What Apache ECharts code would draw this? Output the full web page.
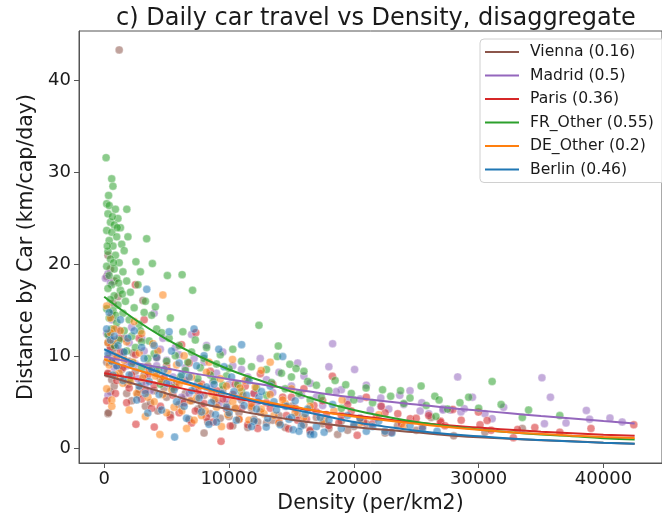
<!DOCTYPE html>
<html>
<head>
<meta charset="utf-8">
<script src="https://cdn.jsdelivr.net/npm/echarts@6/dist/echarts.min.js"></script>
<style>
  html, body { margin: 0; padding: 0; background: #fff; }
  #chart { width: 662px; height: 520px; }
</style>
</head>
<body>
<div id="chart"></div>
<script>
// City order as listed in the legend
const cities = ['Vienna', 'Madrid', 'Paris', 'FR_Other', 'DE_Other', 'Berlin'];
const fitScores = ['0.16', '0.5', '0.36', '0.55', '0.2', '0.46'];
const cityColors = ['#8c564b', '#9467bd', '#d62728', '#2ca02c', '#ff7f0e', '#1f77b4'];

const xTicks = [0, 10000, 20000, 30000, 40000];
const yTicks = [0, 10, 20, 30, 40];

// Observations: [density per km2, km per capita per day]
const vienna = [[1200,43.3],[300,21.0],[500,19.5],[200,18.7],[800,18.2],[3100,16.1],[600,14.6],[1000,13.0],[300,11.5],[500,10.8],
  [700,10.3],[1500,10.0],[200,9.4],[1000,9.0],[2000,9.5],[300,8.1],[600,7.5],[1300,7.8],[2500,8.4],[3000,7.2],
  [3500,9.0],[4000,6.3],[800,6.8],[4500,7.6],[5000,5.6],[1800,6.0],[5500,6.8],[6000,4.8],[6500,6.0],[2200,5.2],
  [7000,5.2],[7500,4.3],[8000,5.8],[8500,3.8],[9000,4.9],[9500,6.4],[10000,3.5],[10500,4.4],[11000,5.3],[12000,3.2],
  [12500,4.0],[13000,2.8],[14000,3.6],[15000,4.6],[16000,2.6],[17000,3.4],[18000,2.2],[18700,1.55],[19000,3.0],[20000,2.4],
  [23500,2.5],[26200,3.4],[33500,2.2],[3300,4.6],[300,3.8],[340,3.9],[500,6.2],[2700,5.9],[8000,1.7],[4200,8.2],[1600,12.0],
  [400,12.2],[900,11.0],[1400,8.6],[1900,7.0],[2300,10.4],[2800,6.4],[3200,8.0],[3700,5.0],[4300,4.1],[4800,6.6],
  [5300,3.7],[5800,7.3],[6300,5.4],[6800,3.2],[7300,6.6],[7800,4.7],[8300,2.9],[8800,5.3],[9300,3.3],[9800,4.8],
  [10300,2.5],[10800,3.9],[11500,2.3],[11800,4.4],[12300,2.9],[13500,3.1],[14500,2.3],[15500,3.7],[16500,1.9],[17500,2.7],
  [19500,2.0],[21000,2.7],[22500,1.7],[25000,2.0],[28000,1.4],[30500,1.8],[1100,16.5],[700,15.8]];

const madrid = [[300,19.0],[100,18.5],[500,18.0],[200,12.5],[700,11.8],[400,10.2],[1000,9.8],[300,5.8],[800,8.8],[1500,10.5],
  [2000,11.5],[2500,9.2],[3000,12.0],[3500,8.4],[4000,14.7],[4500,10.8],[5000,9.6],[5500,7.8],[6000,10.2],[6500,8.8],
  [7000,12.4],[7500,7.2],[8000,9.4],[8500,6.5],[9000,8.2],[9500,10.5],[10000,7.0],[11000,8.6],[12000,6.0],[12500,9.8],
  [13000,7.5],[14000,8.3],[15000,6.8],[15500,9.3],[16000,7.9],[17000,5.6],[18000,8.9],[18300,11.4],[19000,6.4],[20060,8.6],
  [20500,5.4],[21320,4.2],[22160,5.5],[22160,4.6],[23680,5.8],[24000,4.8],[25440,5.0],[25310,4.1],[27140,4.35],[27140,4.2],
  [27720,4.2],[28320,7.8],[28580,4.0],[28850,4.35],[31080,3.26],[35070,7.7],[35750,5.6],[35270,2.72],[38630,4.16],[38890,3.2],
  [40520,3.33],[6800,6.0],[3300,7.0],[9800,5.4],
  [600,14.0],[1200,12.8],[1800,9.0],[2200,13.2],[2700,7.6],[3200,10.6],[3700,6.3],[4200,9.0],[4700,12.0],[5200,7.0],
  [5700,11.0],[6200,5.6],[7200,9.8],[7700,5.8],[8200,11.2],[8700,7.3],[9200,4.9],[10300,9.0],[10800,5.6],[11500,7.8],
  [12300,5.1],[13500,6.1],[14500,4.6],[15800,5.8],[16500,7.1],[17500,4.7],[18600,6.2],[19500,5.2],[21000,6.9],[22800,4.3],
  [24500,6.3],[26000,3.8],[29500,5.6],[30500,3.8],[32000,4.5],[37000,2.8],[41500,2.9]];

const paris = [[2500,17.8],[6200,11.3],[7340,12.6],[300,8.2],[700,9.6],[1000,7.4],[1500,8.8],[2000,6.6],[2500,10.2],[3000,5.4],
  [3500,8.0],[4000,6.9],[4500,4.6],[5000,9.0],[5500,5.8],[6000,3.9],[6500,7.4],[7000,2.8],[7500,6.2],[8000,4.9],
  [8500,8.4],[8730,2.9],[9360,0.8],[9500,5.4],[10100,2.46],[10500,7.0],[11000,4.4],[11500,2.6],[12000,6.0],[12510,8.15],
  [13000,5.0],[13500,7.0],[14000,2.9],[14770,2.17],[15000,5.6],[15500,3.1],[16000,6.5],[16500,2.0],[17000,4.0],[17500,5.2],
  [18000,2.5],[18280,7.86],[19000,3.6],[19500,4.8],[20270,1.45],[20500,3.3],[21000,5.6],[21500,2.7],[22500,3.9],[23000,1.8],
  [23520,3.8],[24520,3.26],[25500,2.4],[26000,3.6],[26930,3.0],[26960,2.9],[27930,4.27],[29980,3.98],[30110,2.6],[30680,3.07],
  [32780,1.2],[33120,2.1],[42430,2.6],[2540,2.65],[4010,2.35],[1200,12.0],[3200,14.0],
  [200,5.2],[500,11.0],[900,6.0],[1300,10.5],[1800,5.0],[2200,8.0],[2800,12.0],[3300,6.3],[3800,4.4],[4200,9.9],
  [4800,7.7],[5300,3.4],[5700,6.7],[6400,5.0],[6800,9.3],[7300,4.1],[7800,7.0],[8200,3.4],[9000,6.3],[9800,4.3],
  [10300,5.9],[10800,3.2],[11300,6.8],[11800,4.9],[12300,2.2],[13300,4.4],[14300,5.6],[14600,3.6],[15300,4.4],[16200,3.2],
  [16800,4.7],[17800,3.7],[18800,2.8],[19800,4.1],[20800,2.9],[21800,3.4],[22200,4.6],[23800,2.7],[25000,3.3],[27300,2.5],
  [28600,3.1],[31000,2.0],[34500,2.3],[36500,1.8],[39000,2.2]];

const frOther = [[150,31.6],[600,29.3],[700,28.5],[200,26.6],[400,26.4],[900,26.0],[1810,26.0],[300,25.5],[1100,25.0],[500,24.6],
  [800,24.3],[1300,24.0],[200,23.7],[600,23.5],[1000,23.0],[400,22.6],[1400,22.2],[700,22.0],[300,21.4],[1600,21.5],
  [900,21.0],[500,20.6],[1200,20.2],[2540,20.3],[3860,20.1],[200,19.8],[800,19.5],[1500,19.2],[5060,18.8],[6240,18.9],
  [400,18.8],[1000,18.5],[1800,18.2],[600,17.8],[7080,17.2],[300,17.4],[1300,17.2],[2100,17.0],[800,16.6],[500,16.2],
  [1700,16.0],[3300,16.0],[1100,15.6],[200,15.2],[2400,15.3],[700,15.0],[1500,14.7],[3800,14.5],[400,14.2],[2000,14.0],
  [1000,13.7],[2800,13.5],[600,13.0],[1600,12.8],[4200,13.0],[300,12.4],[2200,12.2],[1200,11.8],[3000,11.6],[800,11.2],
  [2500,11.0],[5200,12.0],[1800,10.6],[4000,10.3],[3500,9.8],[5000,9.5],[6000,11.2],[7000,10.5],[3000,8.8],[8000,9.8],
  [9000,9.2],[6500,8.5],[10000,8.7],[11000,9.5],[12400,13.4],[13950,11.15],[13870,10.0],[14870,9.16],[15370,8.7],[11500,7.6],
  [13000,8.6],[15000,7.8],[16000,8.4],[14500,6.5],[17000,6.9],[18000,6.3],[19350,6.95],[20980,6.6],[20000,5.3],[22950,5.7],
  [23740,6.3],[25390,6.8],[26490,5.7],[26830,5.3],[26570,3.5],[24000,4.9],[28500,5.0],[30000,4.4],[31080,7.3],[33500,3.4],
  [13000,5.8],[9500,6.9],[7500,7.6],[5500,6.6],[4500,7.0],[11000,6.2],[16500,5.3],[19000,4.4],[8500,8.0],[2000,7.5],
  [350,27.5],[650,25.2],[1050,24.0],[250,22.0],[750,20.2],[1150,18.0],[1450,16.8],[900,14.5],[2700,17.8],[3200,14.8],
  [2900,12.8],[3600,11.7],[4100,15.4],[4600,12.6],[5300,14.2],[5700,10.1],[6300,12.7],[6700,9.4],[7300,11.8],[7700,8.8],
  [8200,11.0],[8800,7.4],[9300,10.2],[9800,7.9],[10300,10.8],[10700,7.0],[11800,8.9],[12200,6.6],[13400,7.2],[14200,8.2],
  [15600,6.0],[16300,7.3],[17400,5.6],[18500,7.4],[19800,6.0],[21500,5.0],[22300,6.4],[24500,5.5],[25800,4.7],[27500,4.3],
  [29200,5.6],[31800,4.8],[34000,4.2],[36500,3.6],[2300,9.3],[4300,8.6],[6100,7.8],[3400,22.8],[2900,19.2],[1900,23.0]];

const deOther = [[4700,16.7],[200,15.5],[500,14.2],[300,11.5],[800,13.0],[1000,10.0],[400,9.1],[1200,8.2],[200,6.5],[600,5.3],
  [610,4.6],[1500,7.1],[1800,11.6],[2000,4.2],[2300,9.4],[2600,6.0],[3000,12.5],[3300,3.5],[3600,8.6],[4000,5.1],
  [4300,10.6],[4460,1.55],[4600,7.3],[5000,3.9],[5400,6.4],[5800,9.1],[6210,4.1],[6600,2.2],[7000,7.8],[7400,5.5],
  [7800,3.6],[8200,8.3],[8600,6.0],[9000,4.5],[9400,2.4],[9800,6.8],[10280,9.7],[10880,6.6],[10300,5.1],[10800,3.2],
  [11300,7.4],[11800,4.6],[12590,8.5],[12800,3.8],[13300,5.9],[13300,9.4],[14000,2.8],[14500,4.9],[15000,6.5],[16000,3.4],
  [19060,5.3],[2400,13.8],
  [700,11.7],[900,8.0],[1300,12.8],[1600,9.6],[2100,7.3],[2800,10.4],[3100,7.7],[3500,5.6],[3900,11.4],[4100,7.9],
  [4700,5.9],[5100,8.5],[5600,4.5],[6000,7.0],[6400,10.1],[6900,5.2],[7200,3.1],[7700,6.8],[8100,4.1],[8400,9.4],
  [8900,5.4],[9300,7.6],[9900,3.7],[10500,4.4],[11100,5.8],[11600,3.1],[12100,6.7],[12600,4.3],[13600,3.6],[14300,5.3],
  [15300,3.9],[16500,4.6],[17600,3.0],[18400,4.1],[20500,2.8],[22000,3.7],[24000,2.4],[300,9.8],[500,12.6]];

const berlin = [[3410,17.3],[200,13.0],[500,11.8],[300,10.3],[800,12.2],[1000,9.0],[1300,14.0],[1600,10.5],[2000,8.0],[2400,12.8],
  [2800,6.8],[3200,9.8],[3490,3.87],[3600,7.3],[4000,11.2],[4400,5.9],[4800,8.6],[5200,12.7],[5640,1.26],[5600,6.4],
  [6000,9.3],[6400,4.6],[6800,7.8],[7200,13.0],[7600,5.5],[8000,10.1],[8390,2.65],[8920,3.7],[8800,7.0],[9180,10.8],
  [9600,8.9],[10000,3.9],[10400,6.2],[11010,11.3],[11200,4.7],[11600,7.4],[12000,3.0],[12400,5.6],[12980,2.35],[13300,6.8],
  [13800,4.2],[14300,10.0],[14800,3.2],[15130,2.06],[15300,5.2],[15800,2.5],[16300,4.3],[16520,1.55],[16780,1.55],[17620,1.8],
  [17300,3.4],[18300,4.8],[19500,3.6],[20000,2.6],[21000,1.9],[22000,3.0],[23050,1.7],[24500,2.5],[26670,1.9],[700,8.0],
  [400,14.8],[600,9.5],[1100,11.2],[1500,7.4],[1900,12.0],[2200,9.2],[2600,5.3],[3000,11.0],[3300,6.0],[3800,8.6],
  [4200,9.9],[4600,4.2],[5000,7.1],[5400,10.6],[5800,5.1],[6200,8.0],[6600,3.3],[7000,6.3],[7400,9.0],[7800,4.0],
  [8200,6.7],[8600,5.0],[9000,2.9],[9400,6.0],[9800,4.5],[10200,7.8],[10600,3.1],[11400,5.8],[11800,2.4],[12200,4.3],
  [12600,6.2],[13100,3.3],[13600,5.1],[14100,2.6],[14600,4.6],[15000,3.4],[15600,1.9],[16100,3.8],[17000,2.4],[18000,3.1],
  [19000,2.2],[20500,3.3],[21500,2.4],[22500,1.9],[25500,2.2]];

const cityPoints = [vienna, madrid, paris, frOther, deOther, berlin];

// Fitted trend per city, sampled along density
const fitDensity = [0, 2500, 5000, 7500, 10000, 12500, 15000, 17500, 20000, 22500, 25000, 27500, 30000, 32500, 35000, 37500, 40000, 42500];
const fitVienna  = [8.0, 7.0, 6.0, 5.0, 4.3, 3.7, 3.15, 2.7, 2.35, 2.05, 1.78, 1.45, 1.25, 1.08, 0.93, 0.8, 0.66, 0.55];
const fitMadrid  = [10.0, 9.3, 8.7, 8.1, 7.55, 7.0, 6.5, 6.0, 5.55, 5.15, 4.8, 4.45, 4.15, 3.85, 3.55, 3.28, 3.0, 2.75];
const fitParis   = [8.2, 7.6, 6.9, 6.2, 5.6, 5.0, 4.5, 4.0, 3.6, 3.2, 2.85, 2.55, 2.3, 2.05, 1.85, 1.68, 1.52, 1.4];
const fitFrOther = [16.5, 14.0, 11.9, 10.1, 8.6, 7.4, 6.2, 5.1, 4.2, 3.5, 2.9, 2.45, 2.1, 1.8, 1.55, 1.35, 1.15, 1.0];
const fitDeOther = [9.7, 8.6, 7.6, 6.7, 5.9, 5.2, 4.6, 4.0, 3.5, 3.1, 2.7, 2.35, 2.05, 1.8, 1.6, 1.42, 1.28, 1.17];
const fitBerlin  = [10.8, 9.3, 8.0, 6.9, 5.9, 5.0, 4.3, 3.6, 2.9, 2.4, 1.95, 1.6, 1.35, 1.12, 0.94, 0.79, 0.65, 0.54];
const cityFits = [fitVienna, fitMadrid, fitParis, fitFrOther, fitDeOther, fitBerlin];

const FONT = 'DejaVu Sans';
const TEXT = '#1a1a1a';
const chart = echarts.init(document.getElementById('chart'), null, { renderer: 'canvas' });

const series = [];
cities.forEach((c, i) => {
  series.push({
    name: c,
    type: 'scatter',
    data: cityPoints[i],
    symbolSize: 8,
    z: 2,
    itemStyle: { color: cityColors[i], opacity: 0.55, borderColor: '#ffffff', borderWidth: 0.6 },
    emphasis: { disabled: true }
  });
});
cities.forEach((c, i) => {
  series.push({
    name: c + ' (' + fitScores[i] + ')',
    type: 'line',
    data: fitDensity.map((d, k) => [d, cityFits[i][k]]),
    smooth: true,
    showSymbol: false,
    z: 5,
    lineStyle: { color: cityColors[i], width: 2 },
    itemStyle: { color: cityColors[i] },
    emphasis: { disabled: true }
  });
});

chart.setOption({
  animation: false,
  backgroundColor: '#ffffff',
  title: {
    text: 'c) Daily car travel vs Density, disaggregate',
    left: 111,
    top: 2,
    textStyle: { fontFamily: FONT, fontSize: 24, fontWeight: 'normal', color: TEXT }
  },
  legend: {
    orient: 'vertical',
    left: 480,
    top: 39,
    data: cities.map((c, i) => c + ' (' + fitScores[i] + ')'),
    icon: 'rect',
    itemWidth: 34,
    itemHeight: 2,
    itemGap: 3.5,
    padding: [3, 30, 3, 5],
    backgroundColor: 'rgba(255,255,255,0.8)',
    borderColor: '#d0d0d0',
    borderWidth: 1,
    borderRadius: 4,
    textStyle: { fontFamily: FONT, fontSize: 15.6, color: TEXT, lineHeight: 20, padding: [0, 0, 0, 6] }
  },
  grid: {
    left: 79, top: 31, right: -11, bottom: 57,
    show: true, borderColor: '#555555', borderWidth: 1
  },
  xAxis: {
    type: 'value',
    min: -2020, max: 44690,
    name: 'Density (per/km2)',
    nameLocation: 'middle',
    nameGap: 27,
    nameTextStyle: { fontFamily: FONT, fontSize: 20.5, color: TEXT },
    axisLine: { show: true, onZero: false, lineStyle: { color: '#555555' } },
    axisTick: { show: true, inside: false, length: 5, customValues: xTicks, lineStyle: { color: '#555555' } },
    axisLabel: { customValues: xTicks, margin: 7, fontFamily: FONT, fontSize: 18, color: TEXT, formatter: v => String(v) },
    splitLine: { show: false }
  },
  yAxis: {
    type: 'value',
    min: -1.55, max: 45.35,
    name: 'Distance by Car (km/cap/day)',
    nameLocation: 'middle',
    nameGap: 38,
    nameTextStyle: { fontFamily: FONT, fontSize: 20.5, color: TEXT },
    axisLine: { show: true, onZero: false, lineStyle: { color: '#555555' } },
    axisTick: { show: true, inside: false, length: 5, customValues: yTicks, lineStyle: { color: '#555555' } },
    axisLabel: { customValues: yTicks, margin: 8, fontFamily: FONT, fontSize: 18, color: TEXT, formatter: v => String(v) },
    splitLine: { show: false }
  },
  series: series
});
</script>
</body>
</html>
